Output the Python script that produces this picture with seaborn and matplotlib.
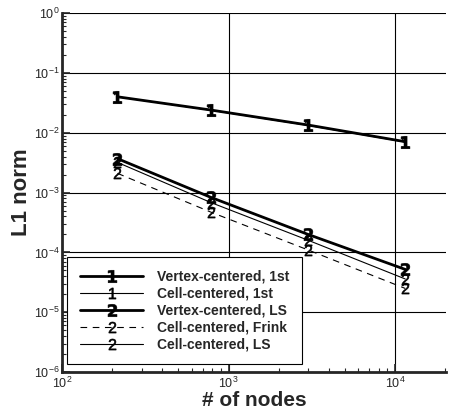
import matplotlib
matplotlib.use("Agg")
import matplotlib.pyplot as plt
import pandas as pd
import seaborn as sns

# Data
nodes = [215, 785, 3000, 11500]
vertex_1st = [0.040, 0.024, 0.0135, 0.0071]
cell_1st = [0.040, 0.0238, 0.0133, 0.0070]
vertex_ls = [0.0037, 8.3e-4, 2.0e-4, 5.2e-5]
cell_frink = [0.0021, 4.7e-4, 1.1e-4, 2.5e-5]
cell_ls = [0.0032, 6.8e-4, 1.6e-4, 3.6e-5]

labels = [
    "Vertex-centered, 1st",
    "Cell-centered, 1st",
    "Vertex-centered, LS",
    "Cell-centered, Frink",
    "Cell-centered, LS",
]
series = [vertex_1st, cell_1st, vertex_ls, cell_frink, cell_ls]

sns.set_style("ticks")
plt.rcParams["font.family"] = ["Liberation Sans", "DejaVu Sans"]
plt.rcParams["mathtext.default"] = "regular"

fig = plt.figure(figsize=(4.5, 4.12), dpi=100)
ax = fig.add_axes([0.138, 0.097, 0.853, 0.871])

styles = [
    dict(lw=2.0, ls="-", marker="$\\mathbf{1}$", ms=9),
    dict(lw=0.8, ls="-", marker="$1$", ms=8),
    dict(lw=2.0, ls="-", marker="$\\mathbf{2}$", ms=9),
    dict(lw=0.8, ls=(0, (6, 5)), marker="$2$", ms=8),
    dict(lw=0.8, ls="-", marker="$2$", ms=8),
]

for lab, vals, st in zip(labels, series, styles):
    df = pd.DataFrame({"nodes": nodes, "L1": vals})
    sns.lineplot(
        data=df, x="nodes", y="L1", ax=ax, color="black",
        linewidth=st["lw"], linestyle=st["ls"], marker=st["marker"],
        markersize=st["ms"], markeredgewidth=0.4, markeredgecolor="black",
        markerfacecolor="black", label=lab,
    )

ax.set_xscale("log")
ax.set_yscale("log")
ax.set_xlim(100, 2.02e4)
ax.set_ylim(1e-6, 1)
ax.grid(True, which="major", color="black", linewidth=0.8)

for s in ["top", "right"]:
    ax.spines[s].set_visible(False)
for s in ["left", "bottom"]:
    ax.spines[s].set_linewidth(2)
ax.tick_params(which="major", direction="in", length=6, width=1.2,
               labelsize=9, pad=2)
ax.tick_params(axis="x", which="major", pad=2.5)
ax.tick_params(which="minor", direction="in", length=3, width=0.8)

ax.set_xlabel("# of nodes", fontsize=15, fontweight="bold")
ax.set_ylabel("L1 norm", fontsize=16, fontweight="bold")
ax.xaxis.set_label_coords(0.5, -0.052)
ax.yaxis.set_label_coords(-0.078, 0.5)

leg = ax.legend(
    loc="lower left", bbox_to_anchor=(0.013, 0.022), borderaxespad=0,
    frameon=True, fancybox=False, edgecolor="black", framealpha=1,
    prop={"weight": "bold", "size": 10}, handlelength=4.6,
    labelspacing=0.22, borderpad=0.9, handletextpad=1.0,
)
leg.get_frame().set_linewidth(0.8)

fig.savefig("out.png", dpi=100)
